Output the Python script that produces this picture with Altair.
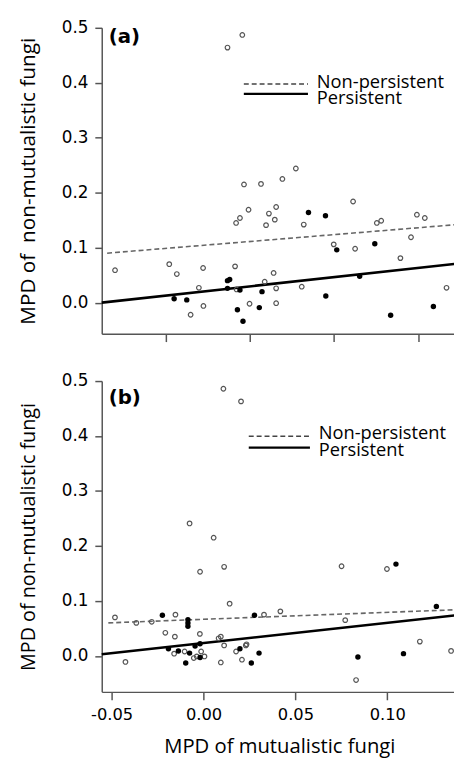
import altair as alt
import pandas as pd

# ---------------- Panel (a) data ----------------
a_open_x = [-0.0133, -0.0045, 0.0066, 0.0193, 0.0273, 0.0113, 0.0156, 0.0148, 0.0096, 0.0320,
            0.0613, 0.0754, 0.0780, 0.0992, 0.1039, 0.0957, 0.0498, 0.0625, 0.0894, 0.0141,
            0.0088, 0.0156, 0.0308, 0.0156, 0.1168, -0.0035, -0.0008, -0.0059, -0.0082, -0.0801,
            -0.0479, -0.0434, -0.0278, -0.0088, -0.0303, -0.0276, -0.0352, -0.0002, -0.0079]
a_open_y = [0.464, 0.487, 0.216, 0.225, 0.244, 0.162, 0.174, 0.151, 0.141, 0.142,
            0.184, 0.145, 0.149, 0.160, 0.154, 0.119, 0.106, 0.098, 0.081, 0.054,
            0.038, 0.026, 0.029, -0.001, 0.027, 0.215, 0.169, 0.154, 0.145, 0.059,
            0.070, 0.052, 0.063, 0.066, 0.027, -0.006, -0.022, -0.002, 0.024]
a_fill_x = [0.0348, 0.0449, 0.0516, 0.0742, 0.0072, 0.0652, 0.0451, 0.0056, 0.0836, 0.1090,
            -0.0133, -0.0120, -0.0133, -0.0059, -0.0450, -0.0375, -0.0074, -0.0041]
a_fill_y = [0.164, 0.158, 0.096, 0.107, 0.020, 0.048, 0.012, -0.009, -0.023, -0.007,
            0.040, 0.042, 0.026, 0.023, 0.007, 0.005, -0.013, -0.034]
a_solid_x = [-0.0880, 0.1230]
a_solid_y = [0.000, 0.071]
a_dash_x = [-0.0848, 0.1230]
a_dash_y = [0.090, 0.142]

# ---------------- Panel (b) data ----------------
b_open_x = [0.0108, 0.0204, -0.0076, 0.0055, -0.0019, 0.0112, 0.0142, -0.0482, -0.0366, -0.0282,
            -0.0153, -0.0208, -0.0156, -0.0020, 0.0082, 0.0094, 0.0112, -0.0160, -0.0103, -0.0013,
            -0.0053, -0.0037, 0.0005, -0.0425, 0.0094, 0.0177, 0.0209, 0.0230, 0.0234, 0.0329,
            0.0418, 0.0751, 0.0998, 0.0771, 0.1177, 0.1347, 0.0830]
b_open_y = [0.486, 0.463, 0.241, 0.215, 0.153, 0.162, 0.095, 0.070, 0.060, 0.062,
            0.075, 0.042, 0.035, 0.040, 0.032, 0.035, 0.019, 0.004, 0.008, 0.008,
            -0.004, -0.001, -0.001, -0.011, -0.012, 0.008, -0.007, 0.019, 0.021, 0.075,
            0.081, 0.163, 0.158, 0.065, 0.026, 0.009, -0.044]
b_fill_x = [-0.0224, -0.0085, -0.0085, -0.0085, -0.0191, -0.0137, -0.0076, -0.0046, -0.0019, -0.0019,
            -0.0097, 0.0198, 0.0260, 0.0277, 0.0302, 0.1047, 0.1267, 0.0840, 0.1088]
b_fill_y = [0.074, 0.066, 0.060, 0.054, 0.013, 0.009, 0.005, 0.018, 0.022, -0.003,
            -0.013, 0.013, -0.013, 0.074, 0.005, 0.167, 0.090, -0.002, 0.004]
b_solid_x = [-0.0554, 0.1379]
b_solid_y = [0.003, 0.074]
b_dash_x = [-0.0518, 0.1379]
b_dash_y = [0.060, 0.084]

y_ticks = [0.0, 0.1, 0.2, 0.3, 0.4, 0.5]
x_ticks = [-0.05, 0.0, 0.05, 0.10]
legend_labels = ["Non-persistent", "Persistent"]
y_title_a = "MPD of\u00a0 non-mutualistic fungi"
y_title_b = "MPD of non-mutualistic fungi"
x_title = "MPD of mutualistic fungi"

PLOT_W = 360
XLABEL = "datum.value < 0 ? '-' + format(abs(datum.value), '.2f') : format(datum.value, '.2f')"


def panel(ox, oy, fx, fy, sx, sy, dx, dy, xdom, ydom, h, show_x, ytitle, ytsize,
          tag, tag_y, leg):
    if show_x:
        x_axis = alt.Axis(values=x_ticks, tickSize=8, labels=True,
                          title=x_title, titleFontSize=20.5,
                          titleFontWeight="normal", titlePadding=14,
                          labelExpr=XLABEL, labelFontSize=16.5, labelPadding=7)
    else:
        x_axis = alt.Axis(values=x_ticks, tickSize=8, labels=False, title=None)
    y_axis = alt.Axis(values=y_ticks, format=".1f", tickSize=7, labelPadding=7,
                      labelFontSize=17, title=ytitle, titleFontSize=ytsize,
                      titleFontWeight="normal", titlePadding=23)
    X = alt.X("x:Q", scale=alt.Scale(domain=xdom, nice=False, zero=False), axis=x_axis)
    Y = alt.Y("y:Q", scale=alt.Scale(domain=ydom, nice=False, zero=False), axis=y_axis)

    open_pts = alt.Chart(pd.DataFrame({"x": ox, "y": oy})).mark_point(
        shape="circle", filled=False, size=22, strokeWidth=1.2, color="#555555", opacity=1
    ).encode(x=X, y=Y)
    fill_pts = alt.Chart(pd.DataFrame({"x": fx, "y": fy})).mark_circle(
        size=30, color="#000000", opacity=1
    ).encode(x=X, y=Y)
    dash_line = alt.Chart(pd.DataFrame({"x": dx, "y": dy})).mark_line(
        color="#666666", strokeWidth=1.6, strokeDash=[5, 3]
    ).encode(x=X, y=Y)
    solid_line = alt.Chart(pd.DataFrame({"x": sx, "y": sy})).mark_line(
        color="#000000", strokeWidth=2.6
    ).encode(x=X, y=Y)

    one = pd.DataFrame({"k": [0]})
    tag_txt = alt.Chart(one).mark_text(
        font="DejaVu Sans", fontWeight="bold", fontSize=20, align="left", baseline="middle", color="#000"
    ).encode(x=alt.value(7), y=alt.value(tag_y), text=alt.value(tag))
    lx1, lx2, ly_d, ly_s, tx, ty1, ty2 = leg
    leg_dash = alt.Chart(one).mark_rule(color="#444444", strokeWidth=1.5, strokeDash=[5, 3]).encode(
        x=alt.value(lx1), x2=alt.value(lx2), y=alt.value(ly_d))
    leg_solid = alt.Chart(one).mark_rule(color="#000000", strokeWidth=2.2).encode(
        x=alt.value(lx1), x2=alt.value(lx2), y=alt.value(ly_s))
    leg_t1 = alt.Chart(one).mark_text(font="Open Sans", fontSize=18.5, align="left",
                                      baseline="middle", color="#000").encode(
        x=alt.value(tx), y=alt.value(ty1), text=alt.value(legend_labels[0]))
    leg_t2 = alt.Chart(one).mark_text(font="Open Sans", fontSize=18.5, align="left",
                                      baseline="middle", color="#000").encode(
        x=alt.value(tx), y=alt.value(ty2), text=alt.value(legend_labels[1]))

    return alt.layer(dash_line, solid_line, open_pts, fill_pts, tag_txt,
                     leg_dash, leg_solid, leg_t1, leg_t2).properties(width=PLOT_W, height=h)


pa = panel(a_open_x, a_open_y, a_fill_x, a_fill_y, a_solid_x, a_solid_y, a_dash_x, a_dash_y,
           [-0.0880, 0.1230], [-0.0565, 0.5], 310, False, y_title_a, 21,
           "(a)", 9, (144, 209, 57, 67, 218, 55, 71.5))
pb = panel(b_open_x, b_open_y, b_fill_x, b_fill_y, b_solid_x, b_solid_y, b_dash_x, b_dash_y,
           [-0.0554, 0.1379], [-0.0655, 0.5], 315, True, y_title_b, 20,
           "(b)", 17, (149, 211, 56, 67.4, 220, 52.4, 70))

chart = alt.vconcat(pa, pb, spacing=30).properties(
    padding={"left": 9, "top": 6, "right": -9, "bottom": 0}
).configure_view(stroke=None).configure_axis(
    grid=False, domainColor="#555555", tickColor="#555555", domainWidth=1.5, tickWidth=1.5,
    labelColor="#000000", titleColor="#000000", labelFont="DejaVu Sans", titleFont="Open Sans"
)

chart.save("out.html", embed_options={"renderer": "svg", "actions": False})
